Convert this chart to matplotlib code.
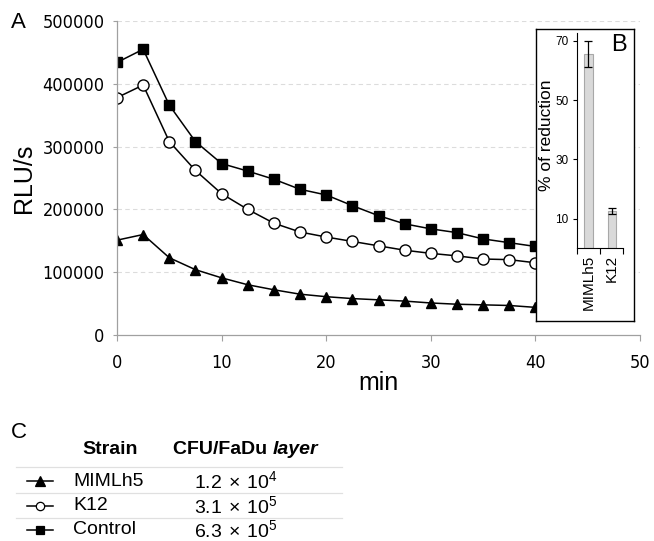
import matplotlib

matplotlib.use("Agg")
import matplotlib.pyplot as plt
from matplotlib import font_manager as fm

# ---- data
TIME = [0, 2.5, 5, 7.5, 10, 12.5, 15, 17.5, 20, 22.5, 25, 27.5, 30, 32.5, 35, 37.5, 40]
CONTROL = [434000, 455000, 366000, 308000, 273000, 261000, 248000, 232000, 223000,
           206000, 190000, 177000, 169000, 163000, 153000, 147000, 141000]
K12 = [378000, 398000, 308000, 262000, 225000, 200000, 178000, 164000, 156000,
       149000, 142000, 135000, 130000, 126000, 121000, 120000, 115000]
MIMLH5 = [151000, 160000, 123000, 104000, 91000, 80000, 72000, 65000, 61000,
          58000, 56000, 54000, 51000, 49000, 48000, 47000, 44000]

Y_TICKS = [0, 100000, 200000, 300000, 400000, 500000]
X_TICKS = [0, 10, 20, 30, 40, 50]

INSET_CATS = ["MIMLh5", "K12"]
INSET_VALS = [65.5, 12.5]
INSET_ERR = [4.3, 1.1]
INSET_TICKS = [10, 30, 50, 70]

TABLE_STRAINS = ["MIMLh5", "K12", "Control"]
TABLE_CFU = [r"$\mathregular{1.2\, \times\, 10^{4}}$",
             r"$\mathregular{3.1\, \times\, 10^{5}}$",
             r"$\mathregular{6.3\, \times\, 10^{5}}$"]

W, H = 654, 541
SANS = ["Liberation Sans", "DejaVu Sans"]

plt.rcParams.update({"font.family": SANS, "mathtext.fontset": "custom",
                     "mathtext.rm": "Liberation Sans"})

# narrow face for the main tick labels, if one is installed
_narrow = [f.fname for f in fm.fontManager.ttflist
           if ("Narrow" in f.fname or "Condensed" in f.fname)
           and "Bold" not in f.fname and "Italic" not in f.fname
           and "Oblique" not in f.fname]
_narrow.sort(key=lambda p: (0 if "Liberation" in p else 1, p))
if _narrow:
    TICK_FP = fm.FontProperties(fname=_narrow[0], size=13)
else:
    TICK_FP = fm.FontProperties(family="Liberation Sans", size=11.5)


def px_rect(x0, y0, x1, y1):
    """pixel box (top-left origin) -> figure fraction rect"""
    return [x0 / W, 1 - y1 / H, (x1 - x0) / W, (y1 - y0) / H]


fig = plt.figure(figsize=(W / 100, H / 100), dpi=100)

# ---- panel A
ax = fig.add_axes(px_rect(117, 21, 640, 335), zorder=1)
marker_kw = dict(color="black", lw=1.1, markeredgecolor="black", markeredgewidth=1.0)
ax.plot(TIME, CONTROL, marker="s", markersize=6.5, markerfacecolor="black", **marker_kw)
ax.plot(TIME, K12, marker="o", markersize=8, markerfacecolor="white", **marker_kw)
ax.plot(TIME, MIMLH5, marker="^", markersize=7.5, markerfacecolor="black", **marker_kw)

ax.set_xlim(0, 50)
ax.set_ylim(0, 500000)
ax.set_xticks(X_TICKS)
ax.set_yticks(Y_TICKS)
for s in ("top", "right"):
    ax.spines[s].set_visible(False)
for s in ("left", "bottom"):
    ax.spines[s].set_color("#a0a0a0")
    ax.spines[s].set_linewidth(0.9)
ax.tick_params(axis="x", direction="out", length=4, color="#a0a0a0", pad=10)
ax.tick_params(axis="y", direction="out", length=3, color="#a0a0a0", pad=6)
for lab in ax.get_xticklabels() + ax.get_yticklabels():
    lab.set_fontproperties(TICK_FP)
for yv in Y_TICKS[1:]:
    ax.axhline(yv, color="#dcdcdc", lw=0.8, ls=(0, (4, 3)), zorder=0)
ax.set_xlabel("min", fontsize=18, labelpad=-1)
ax.set_ylabel("RLU/s", fontsize=18)
ax.yaxis.set_label_coords(-0.155, 0.5)

# ---- panel B (inset)
box = fig.add_axes(px_rect(536, 29, 634, 321), zorder=2)
box.set_xticks([])
box.set_yticks([])
for s in box.spines.values():
    s.set_linewidth(1.0)

ins = fig.add_axes(px_rect(576.7, 32.7, 623.4, 248.3), zorder=3)
ins.patch.set_alpha(0)
ins.bar(range(len(INSET_CATS)), INSET_VALS, width=0.36, color="#d9d9d9",
        edgecolor="#a8a8a8", linewidth=0.8)
ins.errorbar(range(len(INSET_CATS)), INSET_VALS, yerr=INSET_ERR, fmt="none",
             ecolor="black", elinewidth=0.9, capsize=3, capthick=0.9)
ins.set_xlim(-0.5, 1.5)
ins.set_ylim(0, 72.7)
ins.set_yticks(INSET_TICKS)
ins.set_xticks([-0.5, 0.5, 1.5])
ins.set_xticklabels([])
ins.set_xticks(range(len(INSET_CATS)), minor=True)
ins.set_xticklabels(INSET_CATS, minor=True, rotation=90, fontsize=11)
ins.tick_params(axis="x", which="major", length=4, direction="out")
ins.tick_params(axis="x", which="minor", length=0, pad=5)
ins.tick_params(axis="y", length=3, direction="out", labelsize=8.5, pad=3)
for s in ("top", "right"):
    ins.spines[s].set_visible(False)
ins.set_ylabel("% of reduction", fontsize=12.5)
ins.yaxis.set_label_coords(-0.486, 0.525)

# ---- overlay in pixel coordinates: panel letters and table C
ov = fig.add_axes([0, 0, 1, 1], zorder=4)
ov.patch.set_alpha(0)
ov.set_xlim(0, W)
ov.set_ylim(H, 0)
ov.axis("off")

ov.text(18, 23, "A", fontsize=16, ha="center", va="center")
ov.text(619, 45, "B", fontsize=17, ha="center", va="center", zorder=5)
ov.text(19, 433, "C", fontsize=16, ha="center", va="center")

ov.text(110, 450, "Strain", fontsize=14, fontweight="bold", ha="center", va="center")
t1 = ov.text(173, 450, "CFU/FaDu ", fontsize=14, fontweight="bold", ha="left", va="center")
fig.canvas.draw()
bb = t1.get_window_extent()
x_after = ov.transData.inverted().transform((bb.x1, bb.y0))[0]
ov.text(x_after, 450, "layer", fontsize=14, fontweight="bold", fontstyle="italic",
        ha="left", va="center")

for yl in (467, 493, 518):
    ov.plot([16, 342], [yl, yl], color="#e0e0e0", lw=0.9)

row_y = [481, 506, 530]
row_marker = [("^", "black", 7), ("o", "white", 6), ("s", "black", 6)]
for y, name, cfu, (mk, fc, ms) in zip(row_y, TABLE_STRAINS, TABLE_CFU, row_marker):
    ov.plot([27, 53], [y, y], color="black", lw=1.1)
    ov.plot([40], [y], marker=mk, markersize=ms, markerfacecolor=fc,
            markeredgecolor="black", markeredgewidth=0.9)
    ov.text(73, y, name, fontsize=14, ha="left", va="center")
    ov.text(194, y, cfu, fontsize=14, ha="left", va="center")

fig.savefig("out.png", dpi=100)
